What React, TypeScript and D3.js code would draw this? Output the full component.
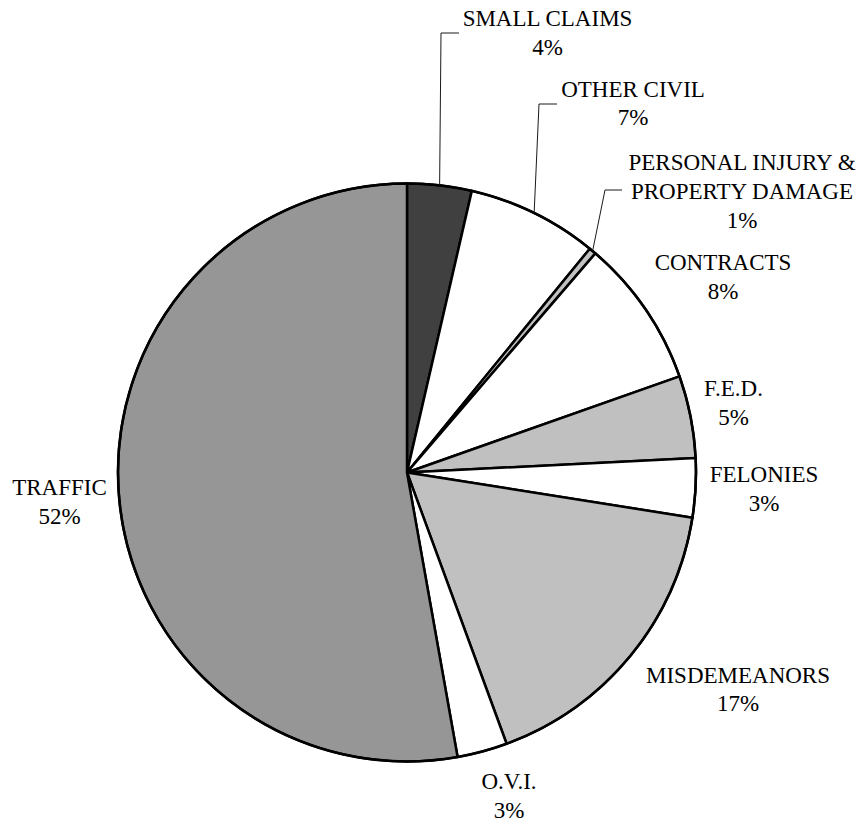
import React from "react";
import * as d3 from "d3";

const categories = [
  "SMALL CLAIMS",
  "OTHER CIVIL",
  "PERSONAL INJURY &\nPROPERTY DAMAGE",
  "CONTRACTS",
  "F.E.D.",
  "FELONIES",
  "MISDEMEANORS",
  "O.V.I.",
  "TRAFFIC",
];
const values = [3.6, 7.3, 0.4, 8.3, 4.6, 3.3, 16.9, 2.8, 52.8];
const pctLabels = ["4%", "7%", "1%", "8%", "5%", "3%", "17%", "3%", "52%"];

// layout (not data)
const fills = ["#404040", "#ffffff", "#c0c0c0", "#ffffff", "#c0c0c0", "#ffffff", "#c0c0c0", "#ffffff", "#969696"];
const labelAnchors: [number, number][] = [
  [547.5, 26],
  [633, 96.5],
  [742, 170],
  [723, 270],
  [733.5, 396],
  [764, 482],
  [738, 682.5],
  [509, 789],
  [59.5, 495],
];
const leaderKnees: ([number, number, number] | null)[] = [
  [441, 33, 459],
  [539, 104, 557],
  [605, 190, 622],
  null, null, null, null, null, null,
];

const W = 865, H = 827;
const CX = 407, CY = 472.5, R = 289;
const FONT = 23;
const LH = 28.8;

export default function App() {
  const pie = d3.pie<number>().sort(null).value((d) => d)(values);
  const arc = d3.arc<d3.PieArcDatum<number>>().innerRadius(0).outerRadius(R);
  return (
    <svg width={W} height={H}
      style={{ position: "absolute", left: 0, top: 0, background: "#fff", fontFamily: '"Liberation Serif", "Times New Roman", "DejaVu Serif", serif', fontSize: FONT }}>
      <g transform={`translate(${CX},${CY})`}>
        {pie.map((p, i) => (
          <path key={i} d={arc(p) || ""} fill={fills[i]} stroke="#000" strokeWidth={2.5} strokeLinejoin="round" />
        ))}
        <circle r={R} fill="none" stroke="#000" strokeWidth={2.5} />
      </g>
      {pie.map((p, i) => {
        const k = leaderKnees[i];
        if (!k) return null;
        const mid = (p.startAngle + p.endAngle) / 2;
        const ex = CX + R * Math.sin(mid);
        const ey = CY - R * Math.cos(mid);
        return (
          <polyline key={"l" + i} points={`${ex},${ey} ${k[0]},${k[1]} ${k[2]},${k[1]}`}
            fill="none" stroke="#1a1a1a" strokeWidth={1} />
        );
      })}
      {categories.map((c, i) => {
        const lines = [...c.split("\n"), pctLabels[i]];
        const [x, y] = labelAnchors[i];
        return (
          <text key={"t" + i} x={x} y={y} textAnchor="middle" fill="#000"
            style={{ fontFamily: '"Liberation Serif", "Times New Roman", serif', fontSize: FONT }}>
            {lines.map((ln, j) => (
              <tspan key={j} x={x} y={y + j * LH}>{ln}</tspan>
            ))}
          </text>
        );
      })}
    </svg>
  );
}
